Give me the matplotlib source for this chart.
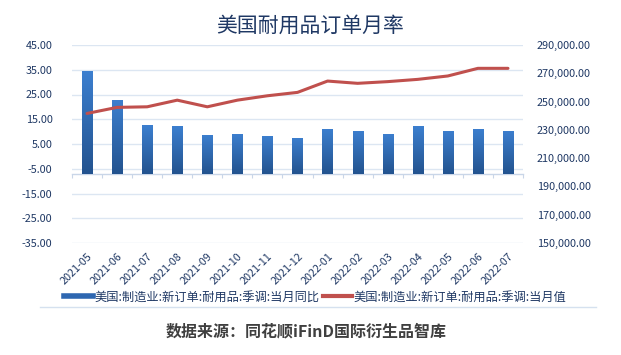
import matplotlib
matplotlib.use("Agg")
import matplotlib.pyplot as plt
import numpy as np
from matplotlib.lines import Line2D
from matplotlib.ticker import FuncFormatter, FixedLocator
from matplotlib.colors import LinearSegmentedColormap

plt.rcParams['font.family'] = ['Noto Sans CJK SC', 'DejaVu Sans']

months = ["2021-05", "2021-06", "2021-07", "2021-08", "2021-09", "2021-10", "2021-11",
          "2021-12", "2022-01", "2022-02", "2022-03", "2022-04", "2022-05", "2022-06", "2022-07"]
yoy = [34.6, 22.9, 12.5, 12.1, 8.8, 9.2, 8.4, 7.6, 11.2, 10.4, 9.2, 12.1, 10.4, 11.2, 10.4]
value = [241600, 245900, 246300, 251000, 246300, 251000, 254100, 256500, 264500, 262900,
         264100, 265700, 268100, 273500, 273500]
yoy_label = "美国:制造业:新订单:耐用品:季调:当月同比"
value_label = "美国:制造业:新订单:耐用品:季调:当月值"
title = "美国耐用品订单月率"
source = "数据来源：同花顺iFinD国际衍生品智库"
axis_cross = -7

navy = "#1F3864"
grid_c = "#DCE6F2"

fig = plt.figure(figsize=(6.21, 3.55), dpi=100)
ax = fig.add_axes([72/621, 1-243/355, (523-72)/621, (243-45)/355])
x = np.arange(len(months))

bars = ax.bar(x, np.array(yoy) - axis_cross, bottom=axis_cross, width=0.34,
              color="#2E67B1", zorder=3)
grad = np.linspace(0, 1, 64).reshape(-1, 1)
cmap = LinearSegmentedColormap.from_list("g", ["#23538F", "#3C7FCF"])
for b in bars:
    x0, y0 = b.get_x(), b.get_y()
    w, h = b.get_width(), b.get_height()
    im = ax.imshow(grad, cmap=cmap, aspect='auto', origin='lower',
                   extent=[x0, x0 + w, y0, y0 + h], zorder=3.5)
    im.set_clip_path(b)

ax.set_xlim(-0.5, len(months) - 0.5)
ax.set_ylim(-35, 45)
ax.set_yticks(np.arange(-35, 46, 10))
ax.yaxis.set_major_formatter(FuncFormatter(lambda v, p: f"{v:.2f}"))
ax.yaxis.grid(True, color=grid_c, lw=1, zorder=0)
ax.set_axisbelow(True)
for s in ax.spines.values():
    s.set_visible(False)
ax.tick_params(axis='y', length=0, pad=14, labelsize=7.8, labelcolor=navy)
ax.set_xticks(x)
ax.set_xticklabels(months, rotation=45, ha='right', rotation_mode='anchor')
ax.tick_params(axis='x', length=0, pad=6, labelsize=7.8, labelcolor=navy)

# category axis line at crossing value
sec = ax.secondary_xaxis((axis_cross + 35) / 80)
sec.xaxis.set_major_locator(FixedLocator(np.arange(-0.5, len(months), 1)))
sec.tick_params(axis='x', direction='out', length=3, color="#C9D6E8", labelbottom=False, width=0.8)
sec.spines['bottom'].set_color("#C9D6E8")
sec.spines['bottom'].set_linewidth(1)
for k in ['top', 'left', 'right']:
    sec.spines[k].set_visible(False)

ax2 = ax.twinx()
ax2.plot(x, value, color="#C0504D", lw=2.2, zorder=5, solid_capstyle='round')
ax2.set_ylim(150000, 290000)
ax2.set_yticks(np.arange(150000, 290001, 20000))
ax2.yaxis.set_major_formatter(FuncFormatter(lambda v, p: f"{v:,.2f}"))
ax2.tick_params(axis='y', length=0, pad=10, labelsize=7.8, labelcolor=navy)
for s in ax2.spines.values():
    s.set_visible(False)

fig.text(0.5, 1 - 26/355, title, ha='center', va='center', fontsize=15, color=navy)

handles = [Line2D([], [], color="#2E67B1", lw=4), Line2D([], [], color="#C0504D", lw=3)]
fig.legend(handles, [yoy_label, value_label], loc='center', bbox_to_anchor=(315/621, 1 - 297/355),
           ncol=2, frameon=False, fontsize=8.8, handlelength=2.4, handletextpad=0.1,
           columnspacing=0.3, labelcolor=navy, borderpad=0)

# data-table border remnant
fig.add_artist(Line2D([40/621, 596/621], [1 - 307/355] * 2, color="#D5E1EF", lw=1))

fig.text(306/621, 1 - 331/355, source, ha='center', va='center', fontsize=11.5,
         fontweight='bold', color="#3F3F3F")

fig.savefig("out.png", dpi=100)
